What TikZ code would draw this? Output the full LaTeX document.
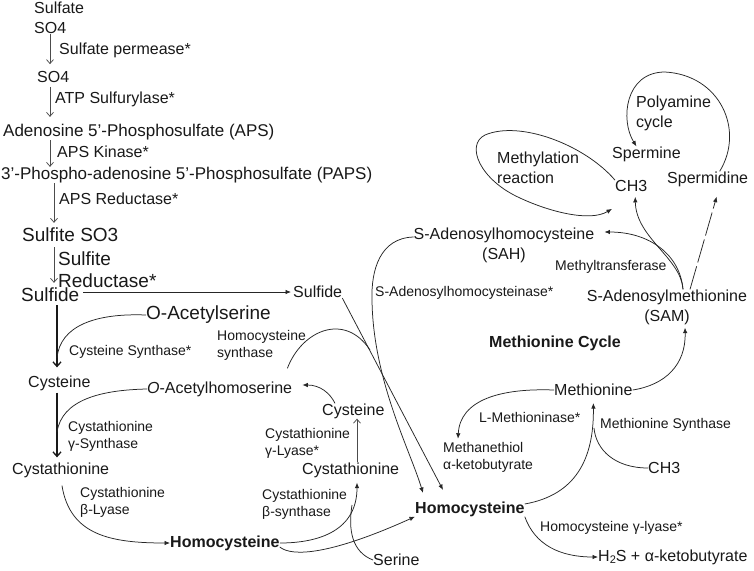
\documentclass[tikz,border=0pt]{standalone}
\usepackage{fontspec}
\setmainfont{Liberation Sans}
\usepackage{tikz}
\usetikzlibrary{arrows.meta,calc}

\tikzset{
    txt/.style={inner sep=0pt, text=black!90, font=\fontsize{16}{20}\selectfont},
    chem/.style={inner sep=0pt, text=black!90, font=\fontsize{17}{20}\selectfont},
    bigtxt/.style={inner sep=0pt, text=black!90, font=\fontsize{19}{22}\selectfont},
    enz/.style={inner sep=0pt, text=black!90, align=left, font=\fontsize{14}{17}\selectfont},
    hub/.style={inner sep=0pt, text=black!90, font=\bfseries\fontsize{16}{20}\selectfont},
    link/.style={draw=black!85, line width=0.75pt},
    flow/.style={link, -{Latex[length=5.5pt,width=4.5pt]}},
    feed/.style={draw=black!70, line width=0.75pt, -{Straight Barb[length=4pt,width=7pt]}},
    trunk/.style={draw=black!90, line width=1.3pt, -{Straight Barb[length=4.5pt,width=8pt]}},
}

\begin{document}
\begin{tikzpicture}[x=1pt, y=-1pt]
    \fill[white] (0,0) rectangle (754,570);
    \useasboundingbox (0,0) rectangle (754,570);

    % Sulfate assimilation
    \node[txt, anchor=west] (sulfate) at (34,8) {Sulfate};
    \node[txt, anchor=west] (so4a) at (34,28) {SO4};
    \node[txt, anchor=west] (so4b) at (37,77) {SO4};
    \node[chem, anchor=west] (aps) at (3,132) {Adenosine 5’-Phosphosulfate (APS)};
    \node[chem, anchor=west] (paps) at (1,175) {3’-Phospho-adenosine 5’-Phosphosulfate (PAPS)};
    \node[bigtxt, anchor=west] (sulfite) at (22,235) {Sulfite SO3};
    \node[bigtxt, anchor=west] (sulfideL) at (21,295) {Sulfide};

    % Enzymes of the chain
    \node[txt, anchor=west] (perm) at (59,50) {Sulfate permease*};
    \node[txt, anchor=west] (atps) at (55,99) {ATP Sulfurylase*};
    \node[txt, anchor=west] (apsk) at (57,152) {APS Kinase*};
    \node[txt, anchor=west] (apsr) at (59,199) {APS Reductase*};
    \node[bigtxt, anchor=west, align=left] (sred) at (58,270) {Sulfite\\Reductase*};

    % Cysteine branch
    \node[bigtxt, anchor=west] (oas) at (146,315) {O-Acetylserine};
    \node[enz, anchor=west] (css) at (69,352) {Cysteine Synthase*};
    \node[txt, anchor=west] (cysL) at (28,383) {Cysteine};
    \node[txt, anchor=west] (ohs) at (147,389) {\textit{O}-Acetylhomoserine};
    \node[enz, anchor=west] (cgs) at (68,436) {Cystathionine\\γ-Synthase};
    \node[txt, anchor=west] (cystL) at (12,470) {Cystathionine};
    \node[enz, anchor=west] (cbl) at (80,502) {Cystathionine\\β-Lyase};
    \node[hub, anchor=west] (homL) at (170,543) {Homocysteine};

    % Transsulfuration
    \node[txt, anchor=west] (sulfideR) at (293,292) {Sulfide};
    \node[enz, anchor=west] (hsyn) at (217,345) {Homocysteine\\synthase};
    \node[txt, anchor=west] (cysM) at (322,411) {Cysteine};
    \node[enz, anchor=west] (cgl) at (265,443) {Cystathionine\\γ-Lyase*};
    \node[txt, anchor=west] (cystM) at (302,470) {Cystathionine};
    \node[enz, anchor=west] (cbs) at (262,504) {Cystathionine\\β-synthase};
    \node[txt, anchor=west] (serine) at (373,560) {Serine};

    % Methionine cycle
    \node[txt, align=center] (sah) at (504,245) {S-Adenosylhomocysteine\\(SAH)};
    \node[enz, anchor=west] (sahase) at (375,293) {S-Adenosylhomocysteinase*};
    \node[enz, anchor=west] (mtf) at (555,267) {Methyltransferase};
    \node[txt, align=center] (sam) at (667,307) {S-Adenosylmethionine\\(SAM)};
    \node[hub, anchor=west] (cycle) at (489,343) {Methionine Cycle};
    \node[txt, anchor=west] (methionine) at (554,390) {Methionine};
    \node[enz, anchor=west] (mtase) at (479,417) {L-Methioninase*};
    \node[enz, anchor=west] (mtk) at (443,457) {Methanethiol\\α-ketobutyrate};
    \node[enz, anchor=west] (msyn) at (600,425) {Methionine Synthase};
    \node[txt, anchor=west] (ch3b) at (648,468) {CH3};
    \node[hub, anchor=west] (homR) at (415,509) {Homocysteine};
    \node[enz, anchor=west] (hgl) at (540,528) {Homocysteine γ-lyase*};
    \node[txt, anchor=west] (h2s) at (598,557) {H\raisebox{-2pt}{\fontsize{11}{11}\selectfont 2}S + α-ketobutyrate};

    % Methyl groups and polyamines
    \node[txt, anchor=west] (ch3t) at (615,186) {CH3};
    \node[txt, anchor=west] (spermine) at (612,154) {Spermine};
    \node[txt, anchor=west] (spermidine) at (667,179) {Spermidine};
    \node[txt, anchor=west, align=left] (poly) at (636,113) {Polyamine\\cycle};
    \node[txt, anchor=west, align=left] (methyl) at (497,168) {Methylation\\reaction};

    % Axes and junctions
    \coordinate (axisA) at (50,0);
    \coordinate (axisB) at (54,0);
    \coordinate (axisC) at (57,0);
    \coordinate (axisM) at (357,0);
    \coordinate (jOas) at (57,358);
    \coordinate (jOahs) at (57,432);
    \coordinate (jSer) at (352,505);
    \coordinate (jHs) at (370,350);
    \coordinate (jMs) at (594,428);
    \coordinate (inSul) at (443,490);
    \coordinate (inSAH) at (423,493);

    % Chain arrows
    \draw[feed, shorten >=7pt] (axisA |- so4a.south) -- (axisA |- so4b.north);
    \draw[feed, shorten <=4pt, shorten >=7pt] (axisA |- so4b.south) -- (axisA |- aps.north);
    \draw[feed] (axisA |- aps.south) -- (axisA |- paps.north);
    \draw[feed, shorten >=5pt] (axisB |- paps.south) -- (axisB |- sulfite.north);
    \draw[feed, shorten <=5pt, shorten >=5pt] (axisB |- sulfite.south) -- (axisB |- sulfideL.north);

    % Sulfide to cysteine and cystathionine
    \draw[flow, shorten <=4pt, shorten >=2pt] (sulfideL.east |- sulfideR.west) -- (sulfideR.west);
    \draw[trunk, shorten <=3pt, shorten >=8pt] (axisC |- sulfideL.south) -- (axisC |- cysL.north);
    \draw[trunk, shorten <=2pt, shorten >=5pt] (axisC |- cysL.south) -- (axisC |- cystL.north);
    \draw[link] (oas.west) .. controls (95,313) and (60,326) .. (jOas);
    \draw[link] (ohs.west) .. controls (100,390) and (62,400) .. (jOahs);
    \draw[flow, shorten <=8pt] (cystL.south) .. controls (70,535) and (110,543) .. (homL.west);

    % Transsulfuration arrows
    \draw[flow, shorten >=5pt] (homL.east) .. controls (320,543) and (357,530) .. (axisM |- cystM.south);
    \draw[link] (serine.west) .. controls (352,552) and (348,530) .. (jSer);
    \draw[flow] ([yshift=-4pt]homL.east) .. controls (292,557) and (330,555) .. (homR.south west);
    \draw[feed] (axisM |- cystM.north) -- (axisM |- cysM.south);
    \draw[flow] ([xshift=13pt]cysM.north west) .. controls (330,393) and (320,385) .. ([xshift=10pt, yshift=4pt]ohs.east);

    % Into homocysteine
    \draw[flow] (sulfideR.south east) -- (inSul);
    \draw[link] ([xshift=-5pt, yshift=13pt]ohs.north east) .. controls (302,330) and (345,312) .. (jHs);
    \draw[flow] ([yshift=8pt]sah.west) .. controls (380,238) and (371,270) .. (372,300)
        .. controls (373,380) and (410,450) .. (inSAH);

    % SAM branches
    \draw[flow] ([xshift=16pt]sam.north) .. controls (680,255) and (650,232) .. ([xshift=10pt, yshift=13pt]sah.east);
    \draw[flow] ([xshift=16pt]sam.north) .. controls (681,258) and (636,238) .. ([xshift=4pt, yshift=-5pt]ch3t.south);
    \draw[flow, dash pattern=on 24pt off 4pt] ([xshift=23pt]sam.north) -- ([xshift=9pt, yshift=-10pt]spermidine.south);
    \draw[flow] ([xshift=12pt]spermidine.north) .. controls (745,130) and (720,75) .. (665,72)
        .. controls (625,72) and (620,120) .. ([xshift=-10pt]spermine.north);
    \draw[flow] (ch3t.north west) .. controls (585,145) and (520,120) .. (485,135)
        .. controls (465,145) and (480,180) .. (520,198)
        .. controls (550,212) and (590,222) .. ([xshift=-3pt, yshift=-17pt]ch3t.south west);

    % Methionine arrows
    \draw[flow] (methionine.east) .. controls (665,385) and (686,365) .. ([xshift=18pt, yshift=-3pt]sam.south);
    \draw[flow] (methionine.west) .. controls (500,388) and (460,400) .. ([xshift=15pt, yshift=3pt]mtk.north west);
    \draw[flow] ([yshift=5pt]homR.east) .. controls (575,495) and (594,460) .. ([yshift=-7pt]methionine.south);
    \draw[link] (ch3b.west) .. controls (615,468) and (596,450) .. (jMs);
    \draw[flow] (homR.south east) .. controls (535,545) and (560,557) .. (h2s.west);
\end{tikzpicture}
\end{document}
